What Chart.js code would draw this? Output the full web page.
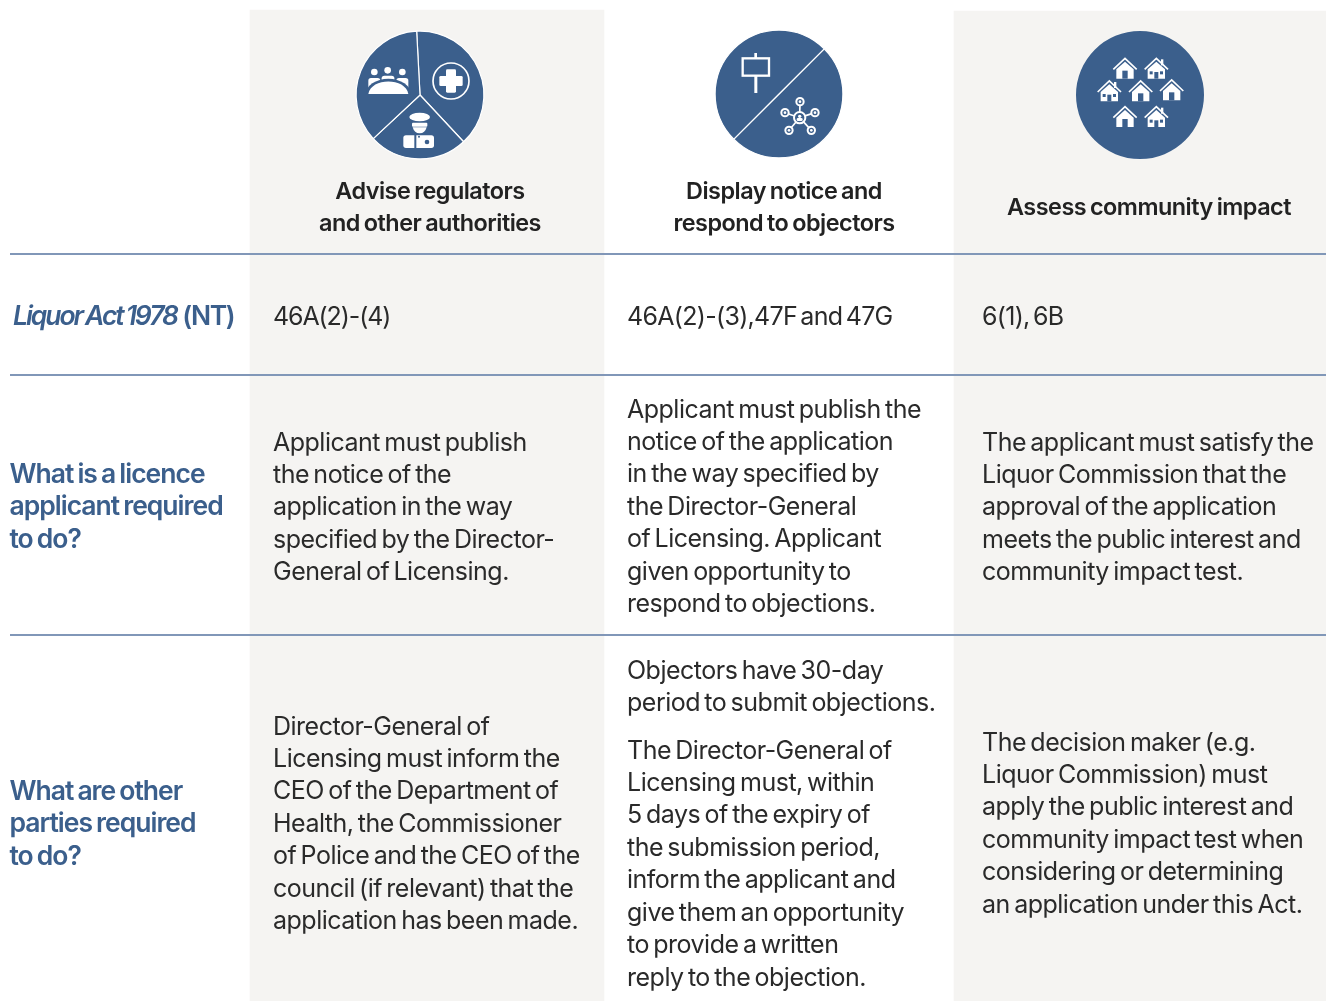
<!DOCTYPE html>
<html>
<head>
<meta charset="utf-8">
<title>Liquor licence requirements</title>
<script src="https://cdn.jsdelivr.net/npm/chart.js@4"></script>
<style>
  html, body { margin: 0; padding: 0; background: #fff; }
  #wrap { position: relative; width: 1326px; height: 1001px; overflow: hidden; }
  canvas { position: absolute; }
</style>
</head>
<body>
<div id="wrap">
  <canvas id="table" width="1326" height="1001" style="left:0;top:0"></canvas>
  <canvas id="pie-0" width="136" height="136" style="left:352px;top:27px"></canvas>
  <canvas id="pie-1" width="136" height="136" style="left:711px;top:26px"></canvas>
  <canvas id="pie-2" width="136" height="136" style="left:1072px;top:27px"></canvas>
</div>
<script>
// table structure
const columnEdges = [[250, 604], [954, 1326]];
const columnTops = [10, 11];
const ruleRows = [254, 375, 635];

// header circles: share of each circle (degrees of arc)
const pieShares = [[140, 90, 130], [180, 180], [360]];
const pieRotation = [-3, 45, 0];

const headers = [
  ['Advise regulators', 'and other authorities'],
  ['Display notice and', 'respond to objectors'],
  ['Assess community impact']
];
const headerCentres = [430, 784, 1149];
const headerFirstY = [192, 192, 208];

const actItalic = 'Liquor Act 1978';
const actPlain = ' (NT)';
const sections = ['46A(2)-(4)', '46A(2)-(3),47F and 47G', '6(1), 6B'];
const sectionSpacing = ['-1.1px', '-0.7px', '-0.7px'];

const rowLabels = [
  ['What is a licence', 'applicant required', 'to do?'],
  ['What are other', 'parties required', 'to do?']
];
const rowLabelFirstY = [475, 792];

const applicantCells = [
  ['Applicant must publish', 'the notice of the', 'application in the way', 'specified by the Director-', 'General of Licensing.'],
  ['Applicant must publish the', 'notice of the application', 'in the way specified by', 'the Director-General', 'of Licensing. Applicant', 'given opportunity to', 'respond to objections.'],
  ['The applicant must satisfy the', 'Liquor Commission that the', 'approval of the application', 'meets the public interest and', 'community impact test.']
];
const applicantFirstY = [443, 410, 443];

const partiesCells = [
  ['Director-General of', 'Licensing must inform the', 'CEO of the Department of', 'Health, the Commissioner', 'of Police and the CEO of the', 'council (if relevant) that the', 'application has been made.'],
  ['Objectors have 30-day', 'period to submit objections.'],
  ['The decision maker (e.g.', 'Liquor Commission) must', 'apply the public interest and', 'community impact test when', 'considering or determining', 'an application under this Act.']
];
const partiesFirstY = [727, 671, 743];
const partiesExtra = ['The Director-General of', 'Licensing must, within', '5 days of the expiry of', 'the submission period,', 'inform the applicant and', 'give them an opportunity', 'to provide a written', 'reply to the objection.'];
const partiesExtraFirstY = 751;

const bodyColumns = [273, 627, 982];
const lineStep = 32.45;

const BLUE = '#3b5f8c';
const CELL = '#f5f4f2';
const RULE = '#8197b8';
const INK = '#2a2a2a';
const BODY_FONT = '400 25px Inter';
const BOLD_FONT = '600 23.4px Inter';
const LABEL_FONT = '600 26.5px Inter';

function putLines(ctx, scales, lines, x, firstY, font, color, spacing, words, align) {
  ctx.font = font;
  ctx.fillStyle = color;
  ctx.letterSpacing = spacing;
  ctx.wordSpacing = words;
  ctx.textAlign = align || 'left';
  ctx.textBaseline = 'middle';
  lines.forEach((line, i) => {
    ctx.fillText(line, scales.x.getPixelForValue(x), scales.y.getPixelForValue(firstY + i * lineStep));
  });
}

function putBody(ctx, scales, lines, x, firstY) {
  putLines(ctx, scales, lines, x, firstY, BODY_FONT, INK, '-0.5px', '-2.2px');
}

const tableText = {
  id: 'tableText',
  afterDraw(chart) {
    const { ctx, scales } = chart;
    ctx.save();
    headers.forEach((h, i) => putLines(ctx, scales, h, headerCentres[i], headerFirstY[i], BOLD_FONT, '#222', '-0.5px', '-1.5px', 'center'));
    sections.forEach((s, i) => putLines(ctx, scales, [s], bodyColumns[i], 317, BODY_FONT, INK, sectionSpacing[i], '-3px'));

    putLines(ctx, scales, [actItalic], 13, 317, 'italic ' + LABEL_FONT, BLUE, '-2.07px', '-1.5px');
    const w = ctx.measureText(actItalic).width;
    putLines(ctx, scales, [actPlain], 13 + w, 317, LABEL_FONT, BLUE, '-1.4px', '-2px');

    rowLabels.forEach((l, i) => putLines(ctx, scales, l, 9.5, rowLabelFirstY[i], LABEL_FONT, BLUE, '-1px', '-1.6px'));
    applicantCells.forEach((c, i) => putBody(ctx, scales, c, bodyColumns[i], applicantFirstY[i]));
    partiesCells.forEach((c, i) => putBody(ctx, scales, c, bodyColumns[i], partiesFirstY[i]));
    putBody(ctx, scales, partiesExtra, bodyColumns[1], partiesExtraFirstY);
    ctx.restore();
  }
};

new Chart(document.getElementById('table'), {
  type: 'bar',
  plugins: [tableText],
  data: {
    datasets: columnEdges.map((edges, i) => ({
      data: [{ x: edges, y: (columnTops[i] + 1001) / 2 }],
      backgroundColor: CELL,
      borderWidth: 0,
      barThickness: 1001 - columnTops[i],
      grouped: false
    }))
  },
  options: {
    indexAxis: 'y',
    responsive: false,
    animation: false,
    layout: { padding: { left: 10 } },
    plugins: { legend: { display: false }, tooltip: { enabled: false } },
    scales: {
      x: { type: 'linear', min: 10, max: 1326, display: false },
      y: {
        type: 'linear', min: 0, max: 1001, reverse: true, offset: false,
        afterBuildTicks(axis) { axis.ticks = ruleRows.map(v => ({ value: v })); },
        ticks: { display: false },
        border: { display: false },
        grid: { color: RULE, lineWidth: 2, drawTicks: false, offset: false, z: 1 }
      }
    }
  }
});

// icons are drawn in coordinates of a 450 wide sketch with the circle at its centre
function pill(ctx, x, y, w, h, r) {
  ctx.beginPath();
  ctx.roundRect(x, y, w, h, r);
  ctx.fill();
}
function disc(ctx, x, y, r) {
  ctx.beginPath();
  ctx.arc(x, y, r, 0, Math.PI * 2);
  ctx.fill();
}
function iconPeople(ctx) {
  ctx.fillStyle = '#fff';
  [[88, 156], [128, 151], [172, 156]].forEach(p => disc(ctx, p[0], p[1], 10));
  pill(ctx, 70, 174, 36, 34, 8);
  pill(ctx, 110, 167, 38, 24, 8);
  pill(ctx, 154, 174, 36, 34, 8);
  ctx.fillStyle = BLUE;
  ctx.beginPath();
  ctx.ellipse(130, 224, 68, 48, 0, Math.PI, 0);
  ctx.fill();
  ctx.fillStyle = '#fff';
  ctx.beginPath();
  ctx.moveTo(70, 222);
  ctx.bezierCurveTo(78, 172, 182, 172, 190, 222);
  ctx.closePath();
  ctx.fill();
}
function iconHealth(ctx) {
  ctx.strokeStyle = '#fff';
  ctx.fillStyle = '#fff';
  ctx.lineWidth = 5;
  ctx.beginPath();
  ctx.arc(318, 183, 54, 0, Math.PI * 2);
  ctx.stroke();
  pill(ctx, 283, 168, 70, 30, 4);
  pill(ctx, 303, 148, 30, 70, 4);
}
function iconOfficer(ctx) {
  ctx.fillStyle = '#fff';
  ctx.beginPath();
  ctx.ellipse(224, 291, 31, 13, 0, 0, Math.PI * 2);
  ctx.fill();
  pill(ctx, 201, 308, 46, 12, 3);
  ctx.beginPath();
  ctx.moveTo(203, 322);
  ctx.lineTo(245, 322);
  ctx.quadraticCurveTo(240, 340, 224, 340);
  ctx.quadraticCurveTo(208, 340, 203, 322);
  ctx.fill();
  pill(ctx, 175, 346, 92, 38, 8);
  ctx.fillStyle = BLUE;
  ctx.fillRect(208, 344, 6, 40);
  disc(ctx, 246, 366, 7);
  disc(ctx, 222, 350, 3);
}
function iconSign(ctx) {
  ctx.strokeStyle = '#fff';
  ctx.lineWidth = 7;
  ctx.strokeRect(116, 118, 79, 52);
  ctx.fillStyle = '#fff';
  ctx.fillRect(151, 102, 8, 16);
  ctx.fillRect(151, 170, 9, 52);
}
function iconNetwork(ctx) {
  const hub = [287, 296];
  const nodes = [[288, 248], [243, 281], [333, 281], [255, 334], [322, 334]];
  ctx.strokeStyle = '#fff';
  ctx.lineWidth = 5;
  nodes.forEach(n => {
    ctx.beginPath();
    ctx.moveTo(hub[0], hub[1]);
    ctx.lineTo(n[0], n[1]);
    ctx.stroke();
  });
  ctx.lineWidth = 6;
  nodes.forEach(n => {
    ctx.fillStyle = BLUE;
    disc(ctx, n[0], n[1], 11);
    ctx.beginPath();
    ctx.arc(n[0], n[1], 11, 0, Math.PI * 2);
    ctx.stroke();
    ctx.fillStyle = '#fff';
    disc(ctx, n[0], n[1], 4);
  });
  ctx.fillStyle = BLUE;
  disc(ctx, hub[0], hub[1], 17);
  ctx.beginPath();
  ctx.arc(hub[0], hub[1], 17, 0, Math.PI * 2);
  ctx.stroke();
  ctx.fillStyle = '#fff';
  disc(ctx, hub[0], hub[1] - 4, 5);
  pill(ctx, hub[0] - 9, hub[1] + 1, 18, 9, 4);
}
function house(ctx, x, y, windows) {
  ctx.strokeStyle = '#fff';
  ctx.fillStyle = '#fff';
  ctx.lineWidth = 5;
  ctx.lineJoin = 'miter';
  ctx.beginPath();
  ctx.moveTo(x - 35, y + 2);
  ctx.lineTo(x, y - 31);
  ctx.lineTo(x + 35, y + 2);
  ctx.stroke();
  if (windows) ctx.fillRect(x + 14, y - 28, 7, 18);
  ctx.beginPath();
  ctx.moveTo(x - 26, y + 2);
  ctx.lineTo(x, y - 21);
  ctx.lineTo(x + 26, y + 2);
  ctx.lineTo(x + 26, y + 30);
  ctx.lineTo(x - 26, y + 30);
  ctx.closePath();
  ctx.fill();
  ctx.fillStyle = BLUE;
  if (windows) {
    ctx.fillRect(x - 6, y + 10, 12, 20);
    ctx.fillRect(x - 20, y + 8, 9, 9);
    ctx.fillRect(x + 11, y + 8, 9, 9);
  } else {
    ctx.fillRect(x - 8, y + 6, 16, 24);
  }
}
function iconHouses(ctx) {
  house(ctx, 180, 146, false);
  house(ctx, 274, 146, true);
  house(ctx, 133, 214, true);
  house(ctx, 227, 214, false);
  house(ctx, 320, 211, false);
  house(ctx, 180, 291, false);
  house(ctx, 274, 291, true);
}
const icons = [
  [iconPeople, iconHealth, iconOfficer],
  [iconSign, iconNetwork],
  [iconHouses]
];

pieShares.forEach((shares, i) => {
  new Chart(document.getElementById('pie-' + i), {
    type: 'pie',
    plugins: [{
      id: 'icons',
      afterDraw(chart) {
        const c = chart.ctx;
        const arc = chart.getDatasetMeta(0).data[0];
        c.save();
        c.translate(arc.x, arc.y);
        c.scale(1 / 3, 1 / 3);
        c.translate(-225, -225);
        icons[i].forEach(draw => draw(c));
        c.restore();
      }
    }],
    data: {
      labels: icons[i].map(f => f.name),
      datasets: [{
        data: shares,
        backgroundColor: BLUE,
        borderColor: shares.length > 1 ? '#fff' : BLUE,
        borderWidth: shares.length > 1 ? 1.2 : 0,
        borderAlign: 'center'
      }]
    },
    options: {
      responsive: false,
      animation: false,
      rotation: pieRotation[i],
      layout: { padding: shares.length > 1 ? 3.5 : 4 },
      plugins: { legend: { display: false }, tooltip: { enabled: false } }
    }
  });
});
</script>
</body>
</html>
